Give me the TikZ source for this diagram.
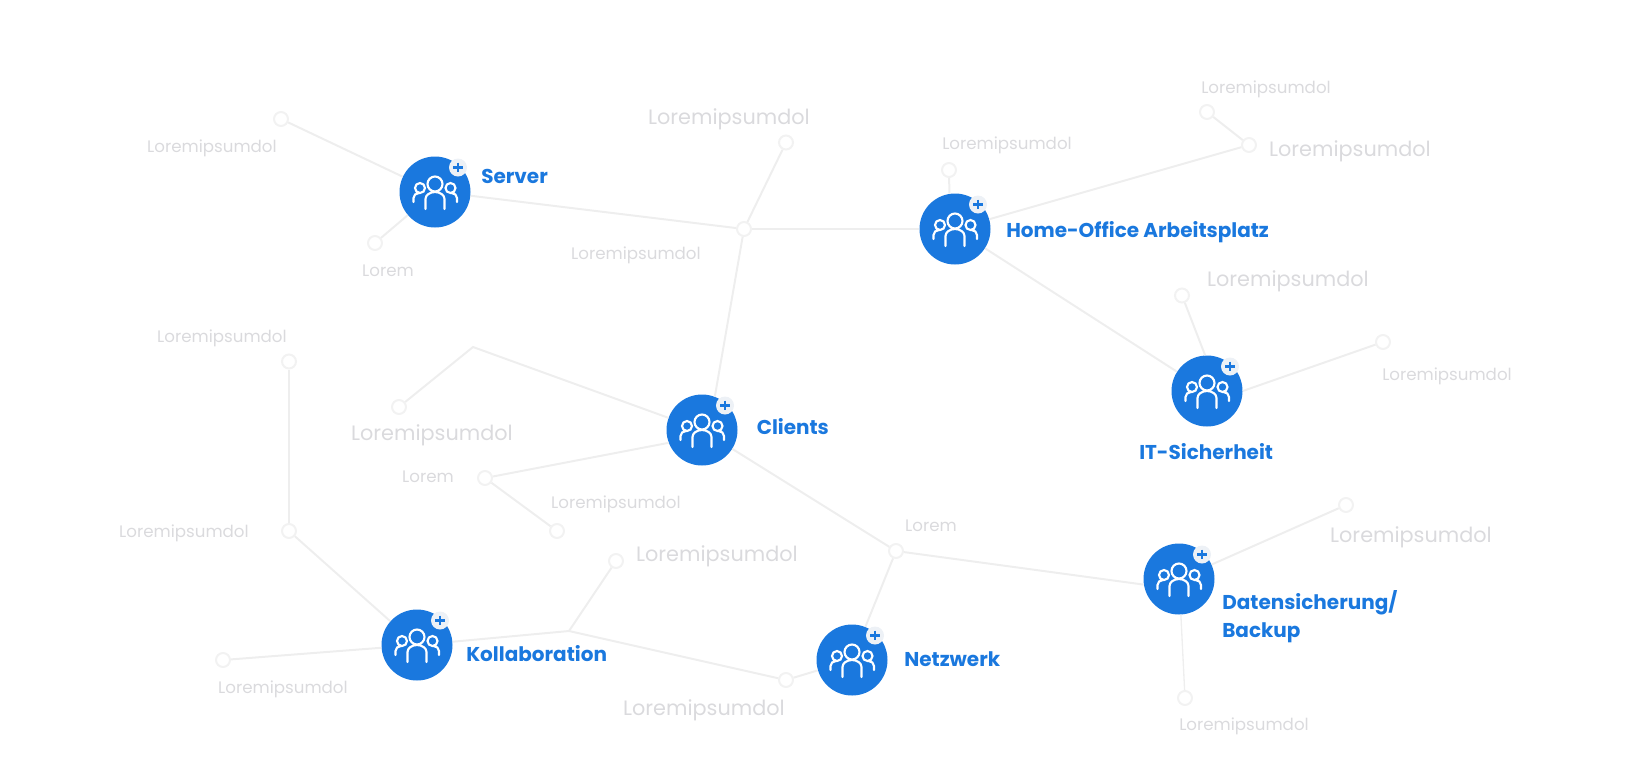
\documentclass[tikz,border=0pt]{standalone}
\usepackage{fontspec}
\setmainfont{Poppins}
\usepackage{tikz}
\usetikzlibrary{positioning, calc}
\definecolor{hubblue}{HTML}{1A78DE}
\definecolor{linegray}{HTML}{EEEEEE}
\definecolor{dotgray}{HTML}{F2F2F2}
\definecolor{textgray}{HTML}{DADADD}
\definecolor{plusbg}{HTML}{EDF1F6}
\tikzset{
	hub/.style={circle, fill=hubblue, minimum size=53.25pt, inner sep=0pt},
	hubtext/.style={anchor=west, align=left, text=hubblue, font=\fontsize{15}{21}\selectfont\bfseries, inner sep=0pt},
	dot/.style={circle, draw=dotgray, fill=white, line width=1.5pt, minimum size=10.5pt, inner sep=0pt},
	small/.style={text=textgray, font=\fontsize{12.5}{15}\selectfont, inner sep=0pt},
	big/.style={text=textgray, font=\fontsize{15.6}{18}\selectfont, inner sep=0pt},
	link/.style={draw=linegray, line width=1.5pt},
	badge/.style={circle, fill=plusbg, minimum size=13.5pt, inner sep=0pt},
	team/.pic={
		\draw[white, line width=1.6pt, line cap=round]
			(0,-8) circle (7.5)
			(-9.5,17) -- (-9.5,7) arc (180:360:9.5 and 7) -- (9.5,17)
			(-15,-4) circle (5)
			(15.5,-4) circle (5)
			(-21.5,10) -- (-21.5,6) arc (180:270:5.5 and 5)
			(22,10) -- (22,6) arc (0:-90:5.5 and 5);
	},
	plus/.pic={
		\draw[hubblue, line width=1.6pt] (-4.8,0) -- (4.8,0) (0,-4.8) -- (0,4.8);
	}
}
\begin{document}
\begin{tikzpicture}[x=0.75pt, y=-0.75pt]
	\useasboundingbox (0,0) rectangle (1643,765);

	\node[hub] (server) at (435,192) {};
	\node[hub] (home) at (955,229) {};
	\node[hub] (itsec) at (1207,391) {};
	\node[hub] (clients) at (702,430) {};
	\node[hub] (backup) at (1179,579) {};
	\node[hub] (netz) at (852,660) {};
	\node[hub] (kollab) at (417,645) {};

	\node[dot] (srvA) at (281,119) {};
	\node[dot] (srvB) at (375,243) {};
	\node[dot] (topJoin) at (744,229) {};
	\node[dot] (topUp) at (786,142.5) {};
	\node[dot] (homeUp) at (949,170) {};
	\node[dot] (homeFar) at (1249,145) {};
	\node[dot] (homeTop) at (1207,112) {};
	\node[dot] (itA) at (1182,295.5) {};
	\node[dot] (itB) at (1383,342) {};
	\node[dot] (cliA) at (399,407) {};
	\node[dot] (cliB) at (485,478) {};
	\node[dot] (cliC) at (557,531) {};
	\node[dot] (lowJoin) at (896,551) {};
	\node[dot] (bakA) at (1346,505) {};
	\node[dot] (bakB) at (1185,698) {};
	\node[dot] (kolTop) at (289,361.5) {};
	\node[dot] (kolMid) at (289,531) {};
	\node[dot] (kolLeft) at (223,660) {};
	\node[dot] (kolUp) at (616,561) {};
	\node[dot] (kolEnd) at (786,680) {};

	\coordinate (cliBend) at (473,347);
	\coordinate (kolBend) at (569,631);

	\draw[link] (server) -- (srvA);
	\draw[link] (server) -- (srvB);
	\draw[link] (server.354) -- (topJoin);
	\draw[link] (topJoin) -- (topUp);
	\draw[link] (topJoin) -- (home);
	\draw[link] (topJoin) -- (clients.69);
	\draw[link] (home.99) -- (homeUp);
	\draw[link] (home) -- (homeFar);
	\draw[link] (homeFar) -- (homeTop);
	\draw[link] (home) -- (itsec);
	\draw[link] (itsec.93) -- (itA);
	\draw[link] (itsec.0) -- (itB);
	\draw[link] (clients) -- (cliBend) -- (cliA);
	\draw[link] (clients.201) -- (cliB);
	\draw[link] (cliB) -- (cliC);
	\draw[link] (clients) -- (lowJoin);
	\draw[link] (lowJoin) -- (netz);
	\draw[link] (lowJoin) -- (backup.189);
	\draw[link] (backup) -- (bakA);
	\draw[link, line width=1pt] (backup.273) -- (bakB);
	\draw[link] (kollab) -- (kolMid);
	\draw[link] (kolMid) -- (kolTop);
	\draw[link] (kollab) -- (kolLeft);
	\draw[link] (kollab) -- (kolBend);
	\draw[link] (kolBend) -- (kolUp);
	\draw[link] (kolBend) -- (kolEnd);
	\draw[link] (kolEnd) -- (netz);

	% icons on the hubs
	\pic at (server) {team};
	\pic at (home) {team};
	\pic at (itsec) {team};
	\pic at (clients) {team};
	\pic at (backup) {team};
	\pic at (netz) {team};
	\pic at (kollab) {team};

	\node[badge] (serverPlus) at ($(server)+(23,-24.5)$) {};
	\node[badge] (homePlus) at ($(home)+(23,-24.5)$) {};
	\node[badge] (itsecPlus) at ($(itsec)+(23,-24.5)$) {};
	\node[badge] (clientsPlus) at ($(clients)+(23,-24.5)$) {};
	\node[badge] (backupPlus) at ($(backup)+(23,-24.5)$) {};
	\node[badge] (netzPlus) at ($(netz)+(23,-24.5)$) {};
	\node[badge] (kollabPlus) at ($(kollab)+(23,-24.5)$) {};
	\pic at (serverPlus) {plus};
	\pic at (homePlus) {plus};
	\pic at (itsecPlus) {plus};
	\pic at (clientsPlus) {plus};
	\pic at (backupPlus) {plus};
	\pic at (netzPlus) {plus};
	\pic at (kollabPlus) {plus};

	\node[hubtext] (serverText) at (481,176) {Server};
	\node[hubtext] (homeText) at (1006,232.5) {Home-Office Arbeitsplatz};
	\node[hubtext] (itsecText) at (1139,452) {IT-Sicherheit};
	\node[hubtext] (clientsText) at (756.5,427) {Clients};
	\node[hubtext] (backupText) at (1222,617) {Datensicherung/\\Backup};
	\node[hubtext] (netzText) at (904,659) {Netzwerk};
	\node[hubtext] (kollabText) at (466,654) {Kollaboration};

	\node[small] (labA) at (212,148) {Loremipsumdol};
	\node[small] (labB) at (388,271) {Lorem};
	\node[small] (labC) at (636,255) {Loremipsumdol};
	\node[big] (labD) at (729,119) {Loremipsumdol};
	\node[small] (labE) at (1007,145) {Loremipsumdol};
	\node[small] (labF) at (1266,89) {Loremipsumdol};
	\node[big] (labG) at (1350,151) {Loremipsumdol};
	\node[big] (labH) at (1288,281) {Loremipsumdol};
	\node[small] (labI) at (1447,376) {Loremipsumdol};
	\node[big] (labJ) at (432,435) {Loremipsumdol};
	\node[small] (labK) at (428,477) {Lorem};
	\node[small] (labL) at (616,504) {Loremipsumdol};
	\node[small] (labM) at (931,526) {Lorem};
	\node[big] (labN) at (1411,537) {Loremipsumdol};
	\node[small] (labO) at (1244,726) {Loremipsumdol};
	\node[small] (labP) at (222,338) {Loremipsumdol};
	\node[small] (labQ) at (184,533) {Loremipsumdol};
	\node[big] (labR) at (717,556) {Loremipsumdol};
	\node[small] (labS) at (283,689) {Loremipsumdol};
	\node[big] (labT) at (704,710) {Loremipsumdol};
\end{tikzpicture}
\end{document}
